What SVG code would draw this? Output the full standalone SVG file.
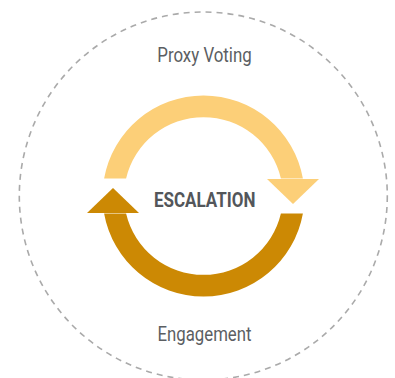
<svg xmlns="http://www.w3.org/2000/svg" width="395" height="378" viewBox="0 0 395 378">
<style>
.lbl{font-family:Roboto,"Liberation Sans",sans-serif;font-size:20px;fill:#5b5e62;text-anchor:middle}
.ctr{font-family:Roboto,"Liberation Sans",sans-serif;font-size:20px;font-weight:bold;fill:#53565a;text-anchor:middle}
.up{fill:#fccf78}
.down{fill:#cc8904}
</style>
<rect width="395" height="378" fill="#ffffff"/>
<g id="boundary">
<circle cx="203.3" cy="196" r="184" fill="none" stroke="#aaaaaa" stroke-width="1.6" stroke-dasharray="6 5"/>
</g>
<g id="connectors">
<g id="arrow-top">
<path class="up" d="M104.1,178.5 A101,101 0 0 1 302.9,178.5 L280.9,178.5 A79.5,79.5 0 0 0 126.1,178.5 Z"/>
<polygon class="up" points="267,179 319,179 293,204"/>
</g>
<g id="arrow-bottom">
<path class="down" d="M302.9,213.5 A101,101 0 0 1 104.1,213.5 L126.1,213.5 A79.5,79.5 0 0 0 280.9,213.5 Z"/>
<polygon class="down" points="87,213 139,213 113,188"/>
</g>
</g>
<g id="node-proxy">
<text class="lbl" x="204.5" y="61.7" textLength="94.5" lengthAdjust="spacingAndGlyphs">Proxy Voting</text>
</g>
<g id="node-engagement">
<text class="lbl" x="204.5" y="341.3" textLength="94" lengthAdjust="spacingAndGlyphs">Engagement</text>
</g>
<g id="node-escalation">
<text class="ctr" x="204.7" y="207" textLength="101.5" lengthAdjust="spacingAndGlyphs">ESCALATION</text>
</g>
</svg>
